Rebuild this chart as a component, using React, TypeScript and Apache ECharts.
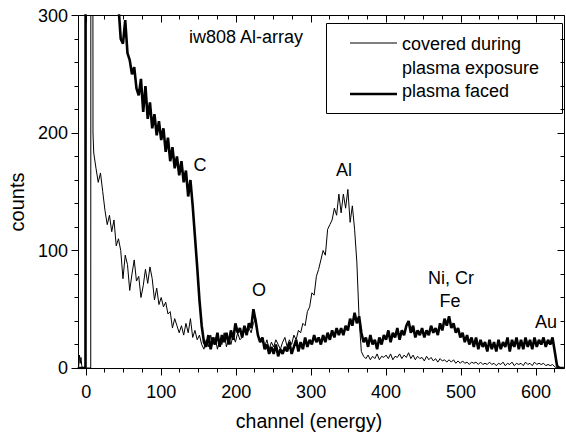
import React, { useEffect, useRef } from "react";
import * as echarts from "echarts";

// ---- data ----
const xMajorTicks = [0, 100, 200, 300, 400, 500, 600];
const yTicks = [0, 100, 200, 300];

// start of the spectra (irregular channels around the spikes)
const thinHeadCh = [-11, -10, -9, -8, -7, -6, -5, 0, 6, 7, 9];
const thinHeadVal = [0, 2, 11, 4, 9, 2, 0, 0, 0, 2500, 200];
const thickHeadCh = [-11, -1, 0, 5];
const thickHeadVal = [0, 0, 3000, 1400];

// main body, channels 10, 13, 16 ... 637 (10 values = 30 channels per row)
const BODY_START = 10;
const BODY_STEP = 3;

const thinBody = [
  183, 170, 158, 166, 150, 134, 122, 130, 116, 126, // 10
  104, 110, 100, 76, 96, 88, 66, 80, 92, 74, // 40
  78, 60, 70, 84, 72, 86, 76, 58, 68, 54, // 70
  60, 52, 56, 46, 48, 34, 42, 36, 30, 36, // 100
  28, 38, 30, 42, 26, 32, 24, 28, 20, 16, // 130
  24, 18, 28, 20, 26, 16, 24, 20, 30, 18, // 160
  26, 20, 28, 22, 30, 24, 26, 32, 28, 34, // 190
  30, 38, 42, 28, 22, 26, 18, 24, 16, 22, // 220
  18, 24, 20, 16, 22, 26, 18, 24, 20, 28, // 250
  24, 32, 30, 38, 36, 48, 52, 64, 62, 78, // 280
  84, 92, 100, 96, 118, 122, 126, 136, 130, 148, // 310
  132, 148, 136, 152, 124, 138, 118, 90, 42, 14, // 340
  10, 8, 11, 7, 10, 8, 12, 7, 10, 9, // 370
  11, 8, 12, 7, 10, 9, 12, 8, 11, 9, // 400
  13, 8, 11, 7, 10, 8, 9, 6, 10, 7, // 430
  9, 6, 8, 5, 8, 6, 7, 5, 7, 5, // 460
  7, 4, 6, 4, 6, 4, 5, 3, 5, 4, // 490
  5, 3, 5, 3, 4, 3, 5, 3, 4, 2, // 520
  4, 3, 5, 2, 4, 3, 5, 2, 4, 3, // 550
  4, 2, 5, 3, 4, 2, 5, 3, 4, 3, // 580
  4, 2, 3, 2, 3, 1, 0, 0, 0, 0, // 610
];

const thickBody = [
  900, 760, 650, 570, 510, 460, 420, 390, 360, 340, // 10
  322, 308, 280, 276, 296, 268, 262, 250, 256, 238, // 40
  232, 246, 218, 240, 212, 226, 204, 216, 198, 210, // 70
  194, 204, 184, 196, 176, 188, 170, 180, 164, 176, // 100
  158, 168, 146, 160, 138, 112, 86, 58, 36, 22, // 130
  18, 28, 16, 26, 20, 30, 18, 28, 22, 30, // 160
  20, 32, 24, 38, 30, 34, 26, 36, 28, 38, // 190
  34, 50, 40, 28, 22, 26, 16, 20, 12, 18, // 220
  12, 20, 10, 16, 12, 18, 14, 22, 12, 18, // 250
  24, 14, 22, 16, 26, 18, 24, 20, 28, 22, // 280
  26, 20, 28, 22, 30, 24, 32, 26, 34, 28, // 310
  34, 28, 36, 32, 42, 36, 47, 38, 44, 30, // 340
  22, 26, 18, 28, 20, 24, 16, 26, 20, 28, // 370
  24, 32, 22, 30, 26, 34, 24, 32, 28, 36, // 400
  40, 30, 36, 26, 32, 28, 34, 26, 32, 28, // 430
  36, 30, 34, 28, 38, 32, 42, 36, 44, 34, // 460
  38, 30, 34, 26, 30, 22, 28, 20, 26, 18, // 490
  26, 16, 24, 18, 22, 14, 24, 16, 22, 14, // 520
  24, 16, 22, 18, 26, 14, 24, 18, 26, 16, // 550
  24, 16, 26, 18, 24, 16, 26, 18, 24, 20, // 580
  26, 18, 24, 20, 26, 14, 2, 0, 0, 0, // 610
];

const seriesNames = ["covered during plasma exposure", "plasma faced"];
const annotations = [
  { text: "C", x: 200, y: 165 },
  { text: "Al", x: 344, y: 170 },
  { text: "O", x: 259, y: 290 },
  { text: "Ni, Cr", x: 451, y: 278 },
  { text: "Fe", x: 450, y: 301 },
  { text: "Au", x: 546, y: 322 },
];

function build(headCh: number[], headVal: number[], body: number[]) {
  const pts: number[][] = headCh.map((c, i) => [c, headVal[i]]);
  body.forEach((v, i) => pts.push([BODY_START + i * BODY_STEP, v]));
  return pts;
}

const FONT = "Liberation Sans, Arial, Helvetica, sans-serif";
const INK = "#000000";
const W = 566;
const H = 436;
const GRID = { left: 78, right: 1.5, top: 15.5, bottom: 68 };

export default function App() {
  const ref = useRef<HTMLDivElement>(null);
  useEffect(() => {
    if (!ref.current) return;
    const chart = echarts.init(ref.current, null, { renderer: "svg", width: W, height: H });
    const xMinor: number[] = [];
    for (let v = 25; v <= 625; v += 25) if (v % 100 !== 0) xMinor.push(v);
    const yMinor: number[] = [];
    for (let v = 20; v < 300; v += 20) if (v % 100 !== 0) yMinor.push(v);
    const xMin = -11;
    const xMax = 638;
    const yMin = yTicks[0];
    const yMax = yTicks[yTicks.length - 1];

    const txt = (text: string, x: number, y: number, size = 18, extra: any = {}) => ({
      type: "text",
      x,
      y,
      ...extra,
      style: { text, fill: INK, fontSize: size, fontFamily: FONT, align: "center", verticalAlign: "middle" },
    });
    const leftTxt = (text: string, x: number, y: number) => ({
      type: "text",
      x,
      y,
      z: 11,
      style: { text, fill: INK, fontSize: 18, fontFamily: FONT, align: "left", verticalAlign: "middle" },
    });

    chart.setOption({
      animation: false,
      grid: { ...GRID },
      xAxis: {
        type: "value", min: xMin, max: xMax, position: "bottom",
        axisLine: { show: false, onZero: false },
        axisTick: { show: false },
        axisLabel: { show: true, customValues: xMajorTicks, fontSize: 18, color: INK, margin: 15, fontFamily: FONT },
        splitLine: { show: false },
      },
      yAxis: {
        type: "value", min: yMin, max: yMax, interval: 100, position: "left",
        axisLine: { show: false, onZero: false },
        axisTick: { show: false },
        axisLabel: { fontSize: 18, color: INK, margin: 10, fontFamily: FONT },
        splitLine: { show: false },
      },
      series: [
        {
          name: seriesNames[0], type: "line",
          data: build(thinHeadCh, thinHeadVal, thinBody),
          showSymbol: false,
          lineStyle: { color: INK, width: 1 },
          itemStyle: { color: INK },
        },
        {
          name: seriesNames[1], type: "line",
          data: build(thickHeadCh, thickHeadVal, thickBody),
          showSymbol: false,
          lineStyle: { color: INK, width: 2.6 },
          itemStyle: { color: INK },
        },
      ],
    });

    // plot frame and ticks
    const gx0 = GRID.left;
    const gx1 = W - GRID.right;
    const gy0 = GRID.top;
    const gy1 = H - GRID.bottom;
    const s = (v: number) => Math.floor(v) + 0.5;
    const L = s(gx0);
    const R = s(gx1);
    const T = s(gy0);
    const B = s(gy1);
    const xPx = (v: number) => {
      let p: any = null;
      try { p = chart.convertToPixel({ xAxisIndex: 0, yAxisIndex: 0 }, [v, yMin]); } catch (e) { p = null; }
      const q = p && isFinite(p[0]) ? p[0] : gx0 + ((v - xMin) / (xMax - xMin)) * (gx1 - gx0);
      return s(q);
    };
    const yPx = (v: number) => {
      let p: any = null;
      try { p = chart.convertToPixel({ xAxisIndex: 0, yAxisIndex: 0 }, [0, v]); } catch (e) { p = null; }
      const q = p && isFinite(p[1]) ? p[1] : gy1 - ((v - yMin) / (yMax - yMin)) * (gy1 - gy0);
      return s(q);
    };
    const frame: any[] = [
      {
        type: "rect", z: 15,
        shape: { x: L, y: T, width: R - L, height: B - T },
        style: { fill: "none", stroke: INK, lineWidth: 1 },
      },
    ];
    const ln = (x1: number, y1: number, x2: number, y2: number) =>
      frame.push({ type: "line", z: 15, shape: { x1, y1, x2, y2 }, style: { stroke: INK, lineWidth: 1 } });
    xMajorTicks.forEach((v) => {
      const px = xPx(v);
      ln(px, B, px, B + 7);
      ln(px, T, px, T + 7);
    });
    xMinor.forEach((v) => {
      const px = xPx(v);
      ln(px, B, px, B + 4);
      ln(px, T, px, T + 4);
    });
    yTicks.forEach((v) => {
      const py = yPx(v);
      ln(L - 7, py, L, py);
      ln(R - 7, py, R, py);
    });
    yMinor.forEach((v) => {
      const py = yPx(v);
      ln(L - 4, py, L, py);
      ln(R - 4, py, R, py);
    });

    chart.setOption({
      graphic: [
        txt("counts", 17, 202, 20, { rotation: Math.PI / 2 }),
        txt("channel (energy)", 309, 421, 19.5),
        txt("iw808 Al-array", 246, 37, 18),
        ...annotations.map((a) => txt(a.text, a.x, a.y, 18)),
        {
          type: "rect",
          z: 10,
          shape: { x: 326.5, y: 23.5, width: 236, height: 90 },
          style: { fill: "#fff", stroke: INK, lineWidth: 1 },
        },
        { type: "line", z: 11, shape: { x1: 350, y1: 43, x2: 397, y2: 43 }, style: { stroke: INK, lineWidth: 1 } },
        { type: "line", z: 11, shape: { x1: 350, y1: 94, x2: 397, y2: 94 }, style: { stroke: INK, lineWidth: 2.6 } },
        leftTxt("covered during", 402, 44),
        leftTxt("plasma exposure", 402, 68),
        leftTxt("plasma faced", 402, 91),
        ...frame,
      ],
    });
    return () => chart.dispose();
  }, []);
  return (
    <div
      ref={ref}
      style={{ position: "fixed", left: 0, top: 0, width: W, height: H, background: "#fff" }}
    />
  );
}
